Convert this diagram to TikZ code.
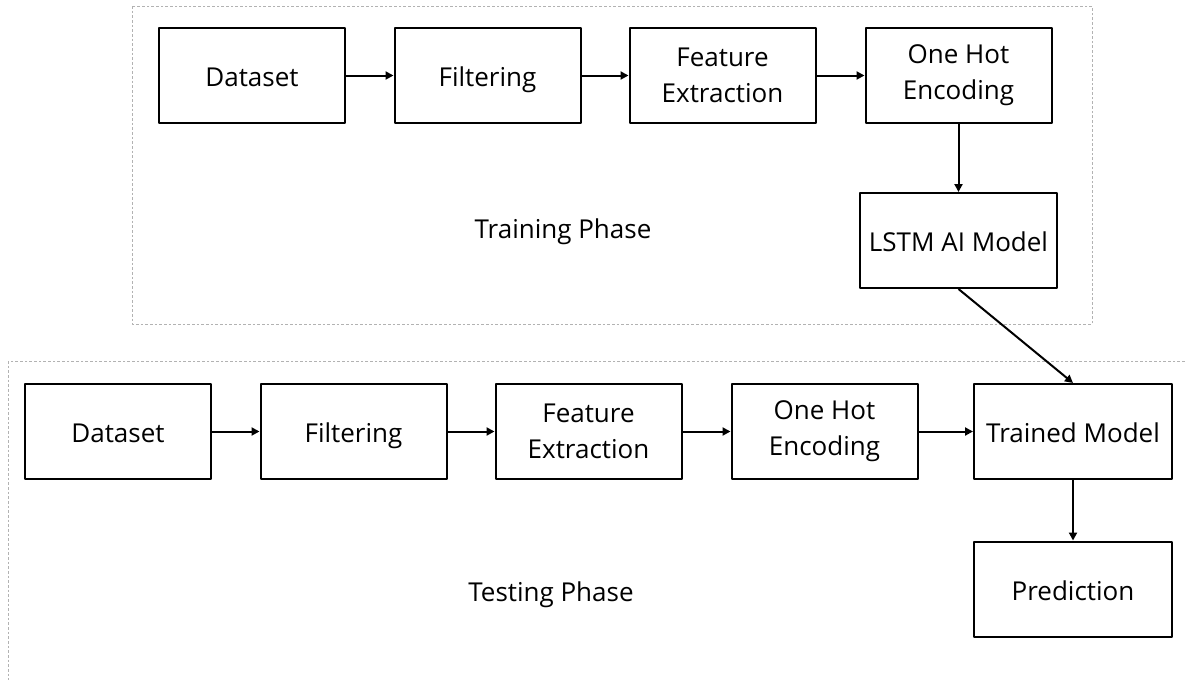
\documentclass[tikz,border=0pt]{standalone}
\usepackage{fontspec}
\setmainfont{Open Sans}
\usetikzlibrary{arrows.meta}

\begin{document}
\begin{tikzpicture}[x=0.75pt, y=-0.75pt, line join=round,
    blok/.style={draw, line width=1.5pt, minimum width=139.5pt, minimum height=71.25pt,
      align=center, inner sep=2pt, font=\fontsize{19.5}{27}\selectfont},
    odyn/.style={blok, text height=16.5pt, text depth=0pt},
    ramka/.style={draw=black!30, line width=0.7pt, dash pattern=on 2pt off 1.5pt},
    strilka/.style={line width=1.5pt, -{Triangle[length=6pt, width=6pt]}},
    napys/.style={font=\fontsize{19.5}{27}\selectfont, text height=16.5pt, text depth=0pt}]
    \useasboundingbox (0,0) rectangle (1186,679);
    % рамки етапів
    \draw[ramka] (132,6) rectangle (1092,324);
    \draw[ramka] (8,361) rectangle (1200,700);
    \node[napys] (TrP) at (563,227) {Training Phase};
    \node[napys] (TeP) at (551,590) {Testing Phase};
    % верхній ряд
    \node[odyn] (A1) at (252,75.5) {Dataset};
    \node[odyn] (B1) at (487.5,75.5) {Filtering};
    \node[blok] (C1) at (722.5,75.5) {Feature\\Extraction};
    \node[blok] (D1) at (958.5,75.5) {One Hot\\Encoding};
    \node[odyn, minimum width=147.75pt] (L) at (958.5,240.5) {LSTM AI Model};
    % нижній ряд
    \node[odyn] (A2) at (118,431.5) {Dataset};
    \node[odyn] (B2) at (353.5,431.5) {Filtering};
    \node[blok] (C2) at (588.5,431.5) {Feature\\Extraction};
    \node[blok] (D2) at (824.5,431.5) {One Hot\\Encoding};
    \node[odyn, minimum width=148.5pt] (T) at (1073,431.5) {Trained Model};
    \node[odyn, minimum width=148.5pt] (P) at (1073,589) {Prediction};
    \draw[strilka] (A1) -- (B1);
    \draw[strilka] (B1) -- (C1);
    \draw[strilka] (C1) -- (D1);
    \draw[strilka] (D1) -- (L);
    \draw[strilka] (L.south) -- (T.north);
    \draw[strilka] (A2) -- (B2);
    \draw[strilka] (B2) -- (C2);
    \draw[strilka] (C2) -- (D2);
    \draw[strilka] (D2) -- (T);
    \draw[strilka] (T) -- (P);
\end{tikzpicture}
\end{document}
